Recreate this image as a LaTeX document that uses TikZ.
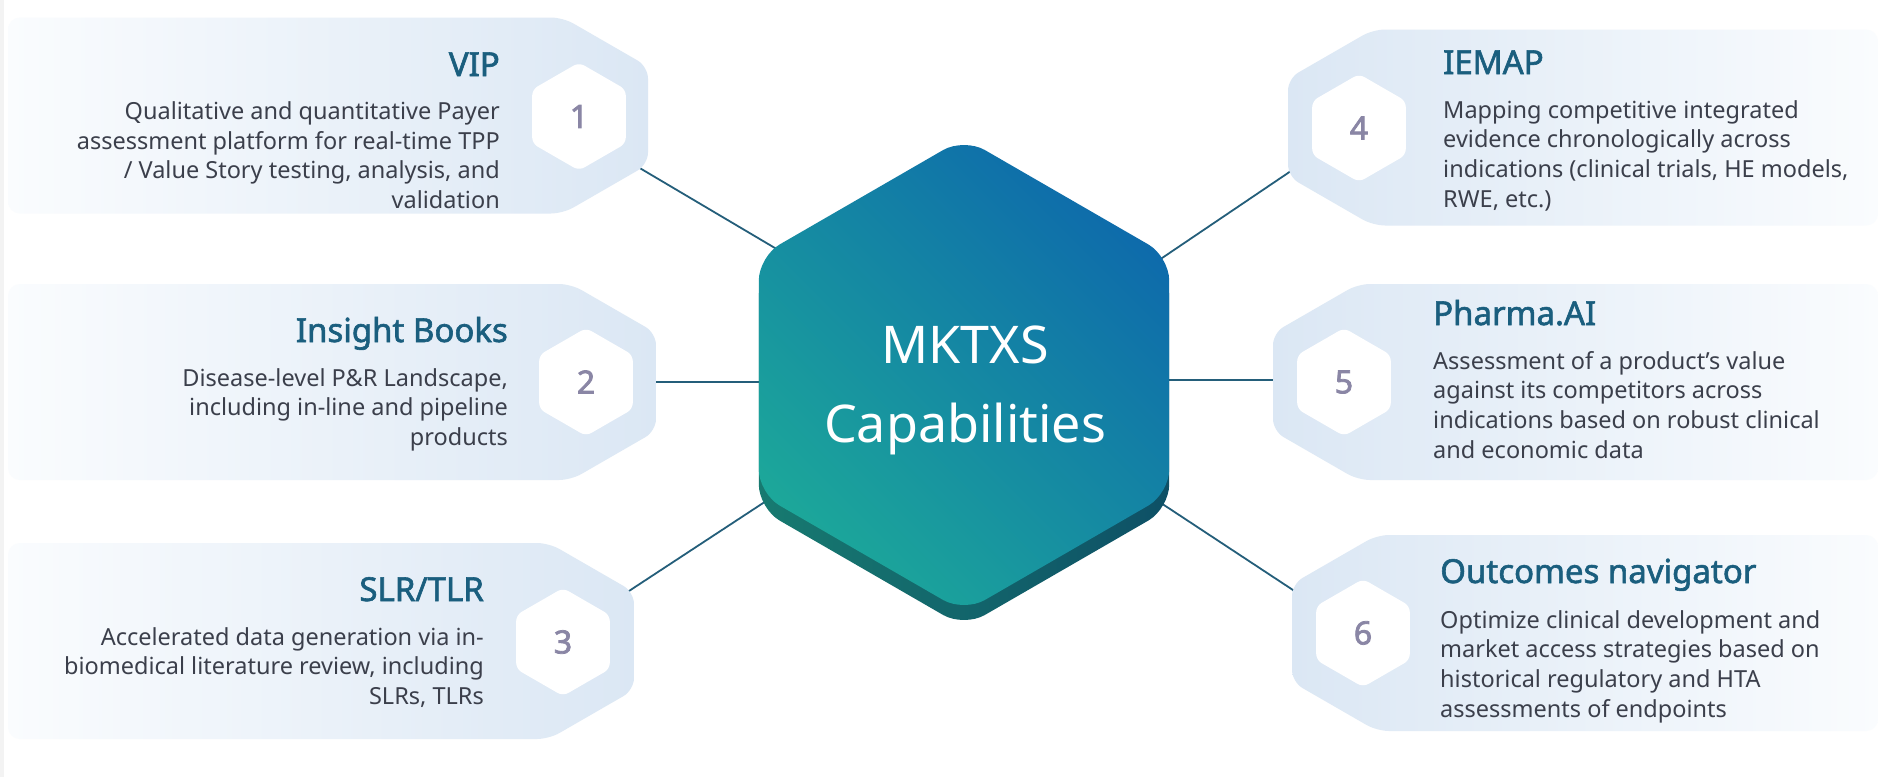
\documentclass[tikz,border=0pt]{standalone}
\usepackage{fontspec}
\setmainfont{Noto Sans}
\newfontfamily\ttlfont{Noto Sans}[FakeBold=1.8]
\newfontfamily\numfont{Noto Sans}[FakeBold=2.4]
\definecolor{ttl}{HTML}{1A5E7E}
\definecolor{bodyc}{HTML}{3B3F4B}
\definecolor{numc}{HTML}{8A86A5}
\definecolor{panelA}{HTML}{DBE7F4}
\definecolor{panelB}{HTML}{FAFCFE}
\definecolor{hexBlue}{HTML}{0E6BAB}
\definecolor{hexTeal}{HTML}{1CA79A}
\definecolor{shA}{HTML}{177A70}
\definecolor{shB}{HTML}{0E5066}
\definecolor{linec}{HTML}{245E7A}
\definecolor{edgec}{HTML}{F3F3F3}
\newcommand\bodyRt[1]{\begin{tabular}[t]{@{}r@{}}#1\end{tabular}}
\newcommand\bodyLt[1]{\begin{tabular}[t]{@{}l@{}}#1\end{tabular}}
\tikzset{
  ttlL/.style={anchor=base east, inner sep=0pt, text=ttl, font=\ttlfont\fontsize{33}{38}\selectfont},
  ttlR/.style={anchor=base west, inner sep=0pt, text=ttl, font=\ttlfont\fontsize{33}{38}\selectfont},
  txtL/.style={anchor=base east, inner sep=0pt, text=bodyc, font=\fontsize{23.5}{29.7}\selectfont},
  txtR/.style={anchor=base west, inner sep=0pt, text=bodyc, font=\fontsize{23.5}{29.7}\selectfont},
  numtxt/.style={inner sep=0pt, text=numc, font=\numfont\fontsize{32}{36}\selectfont},
  conn/.style={draw=linec, line width=1.8pt},
  panelLeft/.style={left color=panelB, right color=panelA, rounded corners=12pt},
  panelRight/.style={left color=panelA, right color=panelB, rounded corners=12pt},
  whitehex/.style={fill=white, rounded corners=6pt},
}
% left panel: #1 flat side x, #2 centre y
\newcommand\leftpanel[2]{%
  \path[panelLeft] (8,{#2-98}) -- ({#1-85},{#2-98}) -- (#1,{#2-49}) -- (#1,{#2+49})
    -- ({#1-85},{#2+98}) -- (8,{#2+98}) -- cycle;}
\newcommand\rightpanel[2]{%
  \path[panelRight] (1878,{#2-98}) -- ({#1+85},{#2-98}) -- (#1,{#2-49}) -- (#1,{#2+49})
    -- ({#1+85},{#2+98}) -- (1878,{#2+98}) -- cycle;}
% white hexagon with number: #1 name, #2 x, #3 y, #4 number
\newcommand\whex[4]{%
  \path[whitehex] (#2,{#3-54}) -- ({#2+46.8},{#3-27}) -- ({#2+46.8},{#3+27}) -- (#2,{#3+54})
    -- ({#2-46.8},{#3+27}) -- ({#2-46.8},{#3-27}) -- cycle;
  \node[numtxt] (#1) at (#2,#3) {#4};}
\begin{document}
\begin{tikzpicture}[x=1pt,y=-1pt]
\useasboundingbox (0,0) rectangle (1878,777);
\fill[white] (0,0) rectangle (1878,777);
\fill[edgec] (0,0) rectangle (4,777);

% connector end points
\coordinate (a1) at (640,168.2);  \coordinate (b1) at (780,251);
\coordinate (a2) at (650,382);    \coordinate (b2) at (766,382);
\coordinate (a3) at (625,593.6);  \coordinate (b3) at (768,499.8);
\coordinate (a4) at (1293,169.6); \coordinate (b4) at (1160,259.4);
\coordinate (a5) at (1280,380);   \coordinate (b5) at (1162,380);
\coordinate (a6) at (1296,592);   \coordinate (b6) at (1160,502.4);
\foreach \i in {1,...,6} {\draw[conn] (a\i) -- (b\i);}

% panels
\leftpanel{648}{115.5}
\leftpanel{656}{382}
\leftpanel{634}{641}
\rightpanel{1288}{127.5}
\rightpanel{1273}{382}
\rightpanel{1292}{633}

\whex{n1}{579}{116.5}{1}
\whex{n2}{586}{382}{2}
\whex{n3}{563}{642}{3}
\whex{n4}{1359}{128}{4}
\whex{n5}{1344}{382}{5}
\whex{n6}{1363}{633}{6}

% titles
\node[ttlL] (t1) at (500,76) {VIP};
\node[ttlL] (t2) at (508,342) {Insight Books};
\node[ttlL] (t3) at (484,601) {SLR/TLR};
\node[ttlR] (t4) at (1443,74) {IEMAP};
\node[ttlR] (t5) at (1433,325) {Pharma.AI};
\node[ttlR] (t6) at (1440,583) {Outcomes navigator};

% body texts
\node[txtL] (d1) at (500,119.3) {\bodyRt{Qualitative and quantitative Payer\\assessment platform for real-time TPP\\/ Value Story testing, analysis, and\\validation}};
\node[txtL] (d2) at (508,386) {\bodyRt{Disease-level P\&R Landscape,\\including in-line and pipeline\\products}};
\node[txtL] (d3) at (484,645) {\bodyRt{Accelerated data generation via in-\\biomedical literature review, including\\SLRs, TLRs}};
\node[txtR] (d4) at (1443,118) {\bodyLt{Mapping competitive integrated\\evidence chronologically across\\indications (clinical trials, HE models,\\RWE, etc.)}};
\node[txtR] (d5) at (1433,369) {\bodyLt{Assessment of a product’s value\\against its competitors across\\indications based on robust clinical\\and economic data}};
\node[txtR] (d6) at (1440,628) {\bodyLt{Optimize clinical development and\\market access strategies based on\\historical regulatory and HTA\\assessments of endpoints}};

% central hexagon
\path[left color=shA, right color=shB, rounded corners=24pt]
  (964,153) -- (1169.2,271.5) -- (1169.2,508.5) -- (964,627) -- (758.8,508.5) -- (758.8,271.5) -- cycle;
\path[top color=hexBlue, bottom color=hexTeal, shading angle=-45, rounded corners=24pt]
  (964,138) -- (1169.2,256.5) -- (1169.2,493.5) -- (964,612) -- (758.8,493.5) -- (758.8,256.5) -- cycle;
\node[inner sep=0pt, text=white, font=\fontsize{52}{79}\selectfont, anchor=base] (ctext) at (965,363)
  {\begin{tabular}[t]{@{}c@{}}MKTXS\\Capabilities\end{tabular}};
\end{tikzpicture}
\end{document}
